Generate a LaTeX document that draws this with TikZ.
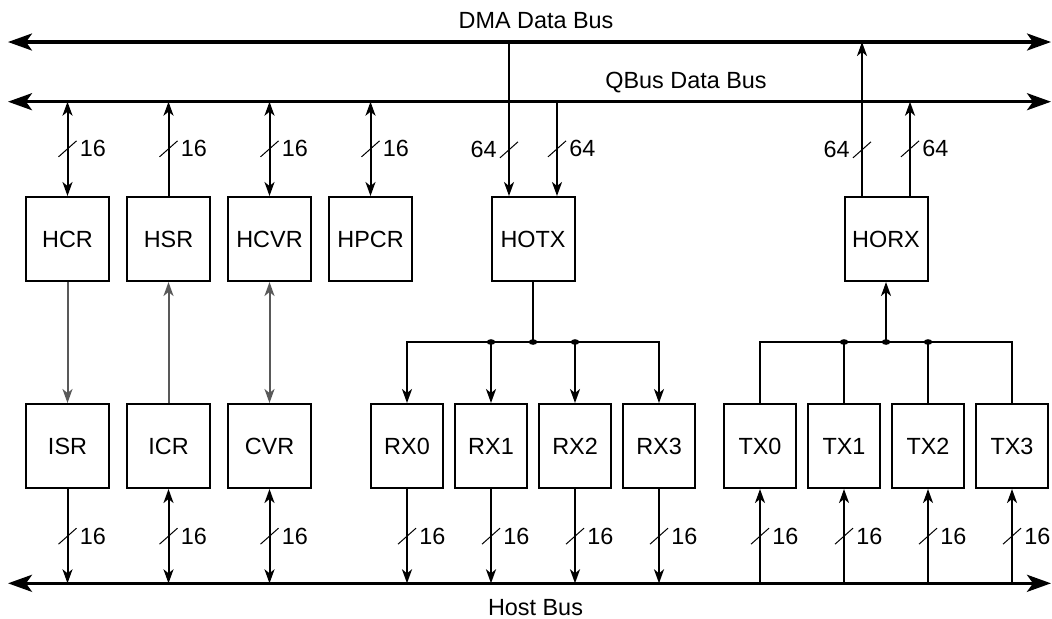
\documentclass[tikz,border=0pt]{standalone}
\usepackage{fontspec}
\setmainfont{Liberation Sans}
\usetikzlibrary{arrows.meta, positioning}
\newcommand{\wmark}[3]{\draw[slash] ([shift={(-9,8)}]#1) -- ([shift={(9,-8)}]#1); \node[num, #3=6pt of #1] {#2};}

\begin{document}
\begin{tikzpicture}[x=0.5pt, y=-0.5pt, >={Stealth[length=7pt, width=5pt, inset=2pt]},
  reg/.style={draw, line width=1pt, minimum width=41.5pt, minimum height=42pt, inner sep=1pt, font=\fontsize{11.7}{14}\selectfont},
  port/.style={reg, minimum width=36pt},
  sig/.style={line width=1pt},
  ctl/.style={sig, draw=black!65},
  bus/.style={line width=1.6pt, {Stealth[length=12pt, width=8.5pt, inset=3pt]}-{Stealth[length=12pt, width=8.5pt, inset=3pt]}},
  slash/.style={line width=0.5pt},
  num/.style={inner sep=0pt, font=\fontsize{11.7}{14}\selectfont},
  lbl/.style={anchor=base, inner sep=0pt, font=\fontsize{11.7}{14}\selectfont}]
\useasboundingbox (0,0) rectangle (1052,618);
% buses
\coordinate (dL) at (8,42); \coordinate (dR) at (1051,42);
\coordinate (qL) at (8,101.7); \coordinate (qR) at (1051,101.7);
\coordinate (hL) at (8,583.3); \coordinate (hR) at (1051,583.3);
\draw[bus] (dL) -- (dR); \draw[bus] (qL) -- (qR); \draw[bus] (hL) -- (hR);
\node[lbl] (dmalbl) at (536,28.3) {DMA Data Bus};
\node[lbl] (qbuslbl) at (686,88) {QBus Data Bus};
\node[lbl] (hostlbl) at (535.5,615.5) {Host Bus};
% registers
\node[reg] (hcr) at (67.5,239) {HCR};
\node[reg, right=8pt of hcr] (hsr) {HSR};
\node[reg, right=8pt of hsr] (hcvr) {HCVR};
\node[reg, right=8pt of hcvr] (hpcr) {HPCR};
\node[reg] (hotx) at (533,239) {HOTX};
\node[reg] (horx) at (886,239) {HORX};
\node[reg, below=60.5pt of hcr] (isr) {ISR};
\node[reg, below=60.5pt of hsr] (icr) {ICR};
\node[reg, below=60.5pt of hcvr] (cvr) {CVR};
\node[port] (rx0) at (407,446) {RX0};
\node[port, right=5pt of rx0] (rx1) {RX1};
\node[port, right=5pt of rx1] (rx2) {RX2};
\node[port, right=5pt of rx2] (rx3) {RX3};
\node[port] (tx0) at (760,446) {TX0};
\node[port, right=5pt of tx0] (tx1) {TX1};
\node[port, right=5pt of tx1] (tx2) {TX2};
\node[port, right=5pt of tx2] (tx3) {TX3};
% QBus and DMA side
\draw[sig, <->] (hcr.north |- qL) -- coordinate (w1) (hcr.north); \wmark{w1}{16}{right}
\draw[sig, ->] (hsr.north) -- coordinate (w2) (hsr.north |- qL); \wmark{w2}{16}{right}
\draw[sig, <->] (hcvr.north |- qL) -- coordinate (w3) (hcvr.north); \wmark{w3}{16}{right}
\draw[sig, <->] (hpcr.north |- qL) -- coordinate (w4) (hpcr.north); \wmark{w4}{16}{right}
\coordinate (hotxA) at ([xshift=-12pt]hotx.north); \coordinate (hotxB) at ([xshift=12pt]hotx.north);
\coordinate (horxA) at ([xshift=-12pt]horx.north); \coordinate (horxB) at ([xshift=12pt]horx.north);
\draw[sig, ->] (hotxA |- dL) -- coordinate[pos=0.7] (w5) (hotxA); \wmark{w5}{64}{left}
\draw[sig, ->] (hotxB |- qL) -- coordinate (w6) (hotxB); \wmark{w6}{64}{right}
\draw[sig, ->] (horxA) -- coordinate[pos=0.3] (w7) (horxA |- dL); \wmark{w7}{64}{left}
\draw[sig, ->] (horxB) -- coordinate (w8) (horxB |- qL); \wmark{w8}{64}{right}
% register pairs
\draw[ctl, ->] (hcr) -- (isr); \draw[ctl, ->] (icr) -- (hsr); \draw[ctl, <->] (hcvr) -- (cvr);
% fan out / fan in
\coordinate (jy) at (0,342);
\draw[sig] (hotx.south) -- (hotx.south |- jy) coordinate (jrx);
\draw[sig, ->] (jrx) -| (rx0.north); \draw[sig, ->] (jrx) -| (rx3.north);
\draw[sig, ->] (rx1.north |- jy) -- (rx1.north); \draw[sig, ->] (rx2.north |- jy) -- (rx2.north);
\fill (jrx) ellipse (4.3 and 2.8); \fill (rx1.north |- jy) ellipse (4.3 and 2.8); \fill (rx2.north |- jy) ellipse (4.3 and 2.8);
\draw[sig, ->] (horx.south |- jy) coordinate (jtx) -- (horx.south);
\draw[sig] (tx0.north) |- (jtx) -| (tx3.north);
\draw[sig] (tx1.north) -- (tx1.north |- jy); \draw[sig] (tx2.north) -- (tx2.north |- jy);
\fill (jtx) ellipse (4.3 and 2.8); \fill (tx1.north |- jy) ellipse (4.3 and 2.8); \fill (tx2.north |- jy) ellipse (4.3 and 2.8);
% host side
\draw[sig, ->] (isr.south) -- coordinate (b1) (isr.south |- hL); \wmark{b1}{16}{right}
\draw[sig, <->] (icr.south) -- coordinate (b2) (icr.south |- hL); \wmark{b2}{16}{right}
\draw[sig, <->] (cvr.south) -- coordinate (b3) (cvr.south |- hL); \wmark{b3}{16}{right}
\draw[sig, ->] (rx0.south) -- coordinate (b4) (rx0.south |- hL); \wmark{b4}{16}{right}
\draw[sig, ->] (rx1.south) -- coordinate (b5) (rx1.south |- hL); \wmark{b5}{16}{right}
\draw[sig, ->] (rx2.south) -- coordinate (b6) (rx2.south |- hL); \wmark{b6}{16}{right}
\draw[sig, ->] (rx3.south) -- coordinate (b7) (rx3.south |- hL); \wmark{b7}{16}{right}
\draw[sig, ->] (tx0.south |- hL) -- coordinate (b8) (tx0.south); \wmark{b8}{16}{right}
\draw[sig, ->] (tx1.south |- hL) -- coordinate (b9) (tx1.south); \wmark{b9}{16}{right}
\draw[sig, ->] (tx2.south |- hL) -- coordinate (b10) (tx2.south); \wmark{b10}{16}{right}
\draw[sig, ->] (tx3.south |- hL) -- coordinate (b11) (tx3.south); \wmark{b11}{16}{right}
\end{tikzpicture}
\end{document}
